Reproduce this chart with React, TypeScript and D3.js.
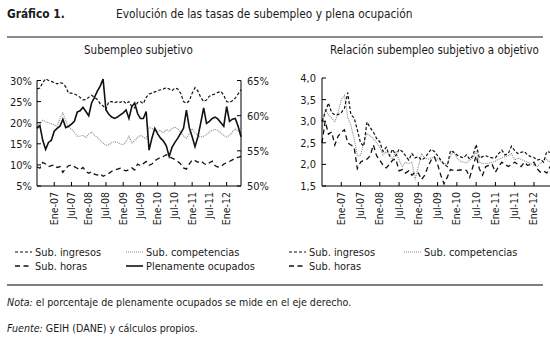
import React from "react";
import * as d3 from "d3";

// Monthly series, Jul-2006 .. Jun-2012 (72 months)
const subIngresos = [28.0,28.2,29.5,30.4,30.0,29.8,29.5,29.2,29.5,29.3,28.5,27.0,27.0,26.8,26.5,26.0,25.4,25.5,26.0,26.5,26.0,25.5,24.5,24.0,23.2,25.0,25.0,24.7,25.0,24.8,25.2,24.5,25.0,23.8,23.5,24.8,25.0,24.5,26.0,26.8,27.0,27.3,27.6,27.8,28.0,28.3,28.0,27.6,28.2,28.0,27.0,25.0,24.6,25.2,27.0,28.3,27.5,26.0,25.0,25.4,26.3,26.6,26.8,27.2,27.4,26.5,25.0,24.8,25.2,25.8,26.8,27.8];
const subCompetencias = [19.0,19.8,20.6,20.2,20.0,19.8,19.4,19.2,21.0,22.3,20.5,19.0,18.5,17.7,16.8,16.8,17.0,16.5,17.3,17.8,17.0,16.5,15.8,15.2,14.6,14.8,15.3,15.5,15.3,15.0,14.8,15.5,16.8,15.2,15.8,16.5,17.0,16.6,16.2,19.0,18.6,18.4,18.0,18.2,17.6,18.4,18.0,18.6,19.0,18.5,17.8,16.8,16.3,17.3,18.6,17.6,17.0,16.6,16.8,17.2,17.8,18.2,18.4,18.2,17.5,17.0,16.6,17.0,17.8,18.5,18.0,17.8];
const subHoras = [9.5,9.2,10.6,10.2,9.6,9.8,10.0,9.4,9.6,8.2,9.2,9.8,10.0,9.6,9.2,8.8,9.4,8.5,8.0,8.4,7.8,7.6,7.9,7.3,7.6,8.0,8.5,8.8,9.0,9.2,8.8,8.6,8.9,9.3,8.8,10.2,9.8,10.3,10.8,9.9,10.2,11.0,11.4,11.8,12.0,12.4,12.0,11.6,11.3,10.8,10.2,9.3,9.0,10.2,11.2,11.0,10.6,11.0,10.4,10.0,10.5,10.9,9.8,9.5,9.6,10.2,10.5,10.8,11.2,11.6,11.8,12.0];
const plenamente = [58.2,58.6,56.5,55.2,56.2,56.5,57.8,58.2,58.5,59.5,58.3,58.5,58.8,59.2,60.5,60.7,61.2,60.6,60.0,61.8,62.6,63.5,64.2,65.2,60.8,60.2,59.8,59.6,59.8,60.1,60.4,60.8,59.6,61.3,61.8,60.3,59.6,59.6,60.6,55.1,56.8,58.2,57.4,56.8,56.4,55.7,54.2,55.5,56.2,56.8,57.5,58.2,60.8,58.3,57.0,55.6,57.0,59.0,61.1,58.9,59.2,59.6,59.8,59.5,59.0,58.5,61.3,59.2,59.5,59.6,58.5,57.0];

const ratioIngresos = [3.0,3.2,3.42,3.2,3.15,3.15,3.2,3.3,3.66,3.15,3.08,2.8,2.5,2.42,2.98,2.85,2.75,2.6,2.52,2.3,2.4,2.2,2.35,2.2,2.35,2.3,2.2,2.1,2.25,2.15,2.18,2.1,2.15,2.25,2.35,2.3,2.2,2.1,2.0,1.95,2.32,2.28,2.22,2.18,2.15,2.22,2.12,2.2,2.46,2.15,2.18,2.2,2.17,2.15,2.15,2.25,2.33,2.22,2.25,2.42,2.32,2.25,2.28,2.3,2.22,2.18,2.16,2.1,2.12,2.05,2.3,2.28];
const ratioCompetencias = [2.83,3.28,3.15,3.08,2.98,3.2,3.5,3.6,3.1,2.9,2.6,2.2,2.2,2.5,2.72,2.66,2.6,2.5,2.4,2.22,2.3,2.22,2.12,2.3,2.1,1.95,2.05,2.02,2.05,1.65,1.95,2.25,2.15,2.12,2.15,2.18,2.12,2.08,2.02,2.0,2.2,2.3,2.15,2.08,2.05,2.03,2.1,2.15,2.3,2.05,2.02,2.02,2.03,2.05,2.08,2.12,2.15,2.18,2.2,2.25,2.1,2.15,2.12,2.08,2.05,2.02,1.98,1.95,2.02,2.1,2.12,2.05];
const ratioHoras = [2.5,3.0,2.7,2.75,2.45,2.65,2.75,2.8,2.5,2.45,2.4,1.9,2.05,2.1,2.12,2.2,2.45,2.2,2.1,1.98,1.92,2.0,2.1,2.12,1.85,1.88,1.8,1.85,1.75,1.82,1.8,1.65,1.75,1.95,2.1,2.17,2.0,1.75,1.55,1.7,1.88,1.86,1.86,1.87,1.88,1.86,1.7,1.95,2.2,1.9,1.75,1.95,1.98,2.0,1.82,1.95,2.05,2.0,1.95,2.0,2.05,2.0,1.95,2.05,1.98,2.0,2.05,1.9,1.82,1.85,1.8,1.95];

const tickLabels = ["Ene-07","Jul-07","Ene-08","Jul-08","Ene-09","Jul-09","Ene-10","Jul-10","Ene-11","Jul-11","Ene-12"];
const tickIndex = [6,12,18,24,30,36,42,48,54,60,66];
const leftTicks = [5,10,15,20,25,30];
const rightTicks = [50,55,60,65];
const ratioTicks = [1.5,2.0,2.5,3.0,3.5,4.0];

const FONT = "'DejaVu Sans Condensed', 'Liberation Sans', Arial, sans-serif";
const TXT = "#1a1a1a";

const STY = {
  ingresos: { stroke: "#111", dash: "3,2", w: 1.2 },
  competencias: { stroke: "#8a8a8a", dash: "1,1", w: 1.1 },
  horas: { stroke: "#111", dash: "5,3.5", w: 1.3 },
  plena: { stroke: "#111", dash: "none", w: 1.6 },
};

function path(data: number[], x: d3.ScaleLinear<number, number>, y: d3.ScaleLinear<number, number>) {
  return d3.line<number>().x((_, i) => x(i)).y((d) => y(d))(data) || "";
}

function XAxis({ x, y0 }: { x: d3.ScaleLinear<number, number>; y0: number }) {
  return (
    <g>
      {tickIndex.map((t, k) => (
        <g key={k}>
          <line x1={x(t)} x2={x(t)} y1={y0} y2={y0 - 4} stroke="#000" strokeWidth={1} />
          <text
            transform={`translate(${x(t) + 3.5},${y0 + 6}) rotate(-90)`}
            textAnchor="end"
            fontSize={10.5}
            fontFamily={FONT}
            fill={TXT}
          >
            {tickLabels[k]}
          </text>
        </g>
      ))}
    </g>
  );
}

function LegendItem({ x, y, s, label }: { x: number; y: number; s: any; label: string }) {
  return (
    <g>
      <line x1={x} x2={x + 17} y1={y} y2={y} stroke={s.stroke} strokeWidth={s.w} strokeDasharray={s.dash === "none" ? undefined : s.dash} />
      <text x={x + 20} y={y + 4} fontSize={10.9} fontFamily={FONT} fill={TXT}>{label}</text>
    </g>
  );
}

export default function App() {
  const n = subIngresos.length;
  const xL = d3.scaleLinear().domain([0, n - 1]).range([37, 241]);
  const yL = d3.scaleLinear().domain([5, 30]).range([186, 80.5]);
  const yR = d3.scaleLinear().domain([50, 65]).range([186, 80.5]);
  const xR = d3.scaleLinear().domain([0, n - 1]).range([322, 550]);
  const yQ = d3.scaleLinear().domain([1.5, 4.0]).range([186, 78]);

  return (
    <svg width={550} height={337} style={{ position: "absolute", left: 0, top: 0 }}>
      <rect width={550} height={337} fill="#fff" />
      <text x={7} y={18} fontSize={11.8} fontWeight="bold" fontFamily={FONT} fill={TXT}>Gráfico 1.</text>
      <text x={116} y={18} fontSize={11.8} fontFamily={FONT} fill={TXT}>Evolución de las tasas de subempleo y plena ocupación</text>
      <line x1={7} x2={543} y1={37} y2={37} stroke="#666" strokeWidth={1.5} />
      <text x={84} y={54} fontSize={11.5} fontFamily={FONT} fill={TXT}>Subempleo subjetivo</text>
      <text x={330} y={54} fontSize={11.5} fontFamily={FONT} fill={TXT}>Relación subempleo subjetivo a objetivo</text>

      {/* Left panel */}
      <g>
        <path d={path(subCompetencias, xL, yL)} fill="none" stroke={STY.competencias.stroke} strokeWidth={STY.competencias.w} strokeDasharray={STY.competencias.dash} />
        <path d={path(subIngresos, xL, yL)} fill="none" stroke={STY.ingresos.stroke} strokeWidth={STY.ingresos.w} strokeDasharray={STY.ingresos.dash} />
        <path d={path(subHoras, xL, yL)} fill="none" stroke={STY.horas.stroke} strokeWidth={STY.horas.w} strokeDasharray={STY.horas.dash} />
        <path d={path(plenamente, xL, yR)} fill="none" stroke={STY.plena.stroke} strokeWidth={STY.plena.w} />
        <line x1={37} x2={37} y1={80.5} y2={186} stroke="#000" />
        <line x1={241} x2={241} y1={80.5} y2={186} stroke="#000" />
        <line x1={37} x2={241} y1={186} y2={186} stroke="#000" />
        {leftTicks.map((t) => (
          <g key={t}>
            <line x1={37} x2={41} y1={yL(t)} y2={yL(t)} stroke="#000" />
            <text x={32} y={yL(t) + 4} textAnchor="end" fontSize={11} fontFamily={FONT} fill={TXT}>{t}%</text>
          </g>
        ))}
        {rightTicks.map((t) => (
          <g key={t}>
            <line x1={237} x2={241} y1={yR(t)} y2={yR(t)} stroke="#000" />
            <text x={247} y={yR(t) + 4} fontSize={11} fontFamily={FONT} fill={TXT}>{t}%</text>
          </g>
        ))}
        <XAxis x={xL} y0={186} />
      </g>

      {/* Right panel */}
      <g>
        <path d={path(ratioCompetencias, xR, yQ)} fill="none" stroke={STY.competencias.stroke} strokeWidth={STY.competencias.w} strokeDasharray={STY.competencias.dash} />
        <path d={path(ratioIngresos, xR, yQ)} fill="none" stroke={STY.ingresos.stroke} strokeWidth={STY.ingresos.w} strokeDasharray={STY.ingresos.dash} />
        <path d={path(ratioHoras, xR, yQ)} fill="none" stroke={STY.horas.stroke} strokeWidth={STY.horas.w} strokeDasharray={STY.horas.dash} />
        <line x1={322} x2={322} y1={78} y2={186} stroke="#000" />
        <line x1={322} x2={550} y1={186} y2={186} stroke="#000" />
        {ratioTicks.map((t) => (
          <g key={t}>
            <line x1={322} x2={326} y1={yQ(t)} y2={yQ(t)} stroke="#000" />
            <text x={316} y={yQ(t) + 4} textAnchor="end" fontSize={11} fontFamily={FONT} fill={TXT}>{d3.format(".1f")(t).replace(".", ",")}</text>
          </g>
        ))}
        <XAxis x={xR} y0={186} />
      </g>

      {/* Legends */}
      <LegendItem x={15} y={252} s={STY.ingresos} label="Sub. ingresos" />
      <LegendItem x={126} y={252} s={STY.competencias} label="Sub. competencias" />
      <LegendItem x={15} y={266} s={STY.horas} label="Sub. horas" />
      <LegendItem x={126} y={266} s={STY.plena} label="Plenamente ocupados" />
      <LegendItem x={289} y={252} s={STY.ingresos} label="Sub. ingresos" />
      <LegendItem x={404} y={252} s={STY.competencias} label="Sub. competencias" />
      <LegendItem x={289} y={266} s={STY.horas} label="Sub. horas" />

      <line x1={7} x2={543} y1={285} y2={285} stroke="#555" strokeWidth={1.5} />
      <text x={7} y={306} fontSize={10.6} fontFamily={FONT} fill={TXT}>
        <tspan fontStyle="italic">Nota:</tspan> el porcentaje de plenamente ocupados se mide en el eje derecho.
      </text>
      <text x={7} y={332} fontSize={10.6} fontFamily={FONT} fill={TXT}>
        <tspan fontStyle="italic">Fuente:</tspan> GEIH (DANE) y cálculos propios.
      </text>
    </svg>
  );
}
